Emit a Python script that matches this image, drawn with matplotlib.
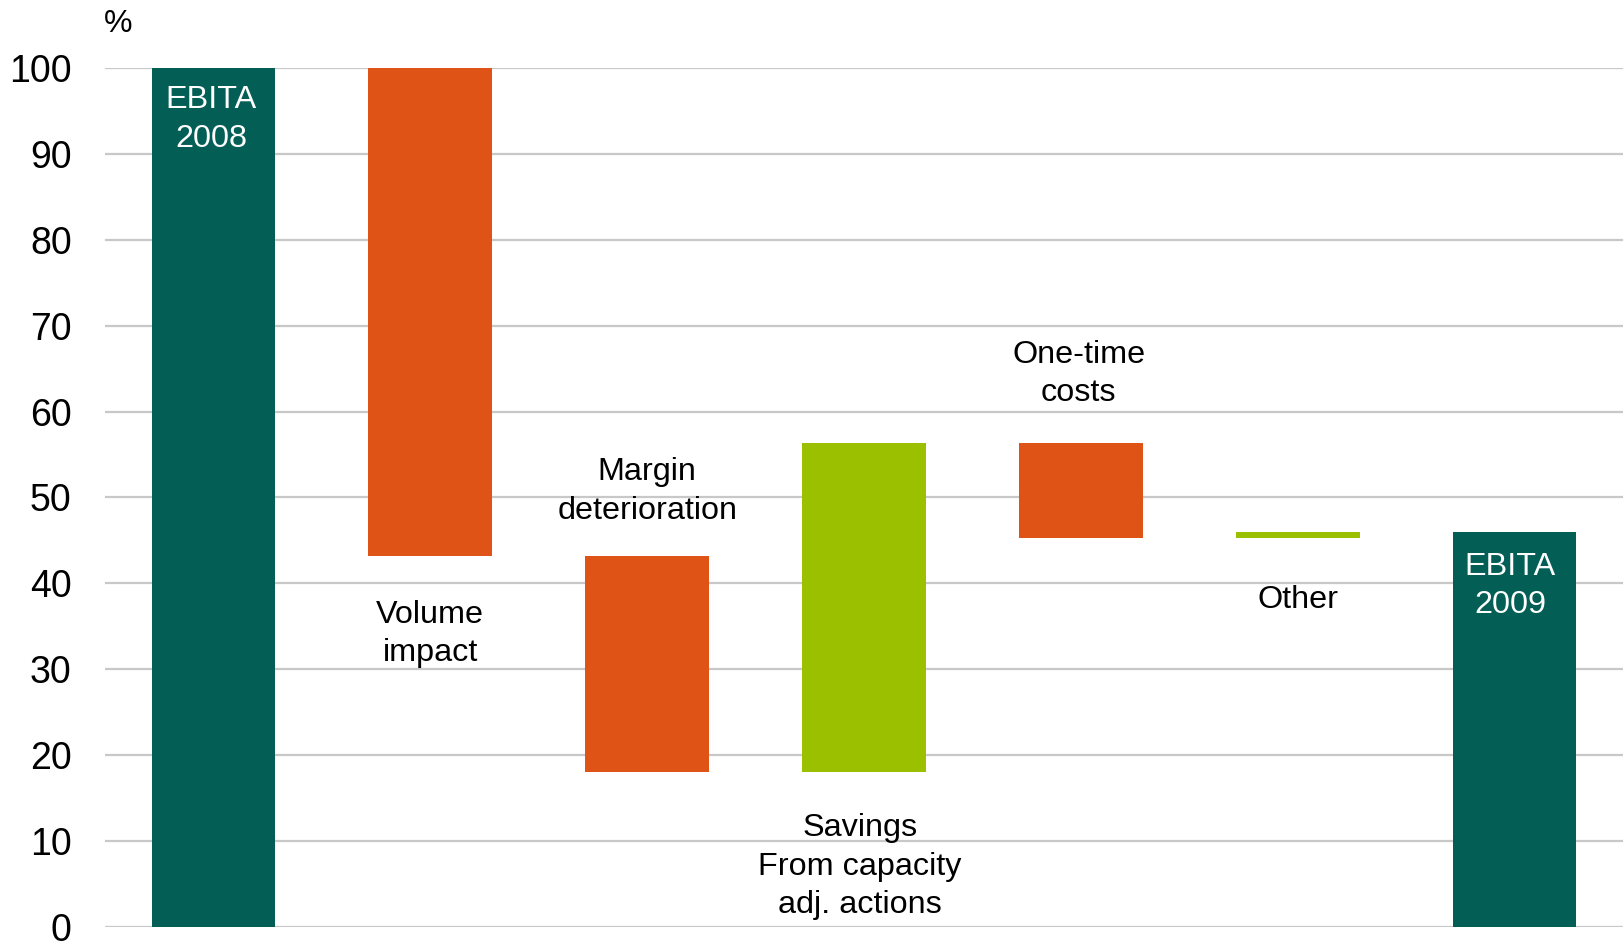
import numpy as np
import matplotlib.pyplot as plt

# waterfall data, % of EBITA 2008
labels = ['EBITA\n2008', 'Volume\nimpact', 'Margin\ndeterioration',
          'Savings\nFrom capacity\nadj. actions', 'One-time\ncosts', 'Other', 'EBITA\n2009']
deltas = [100.0, -56.8, -25.1, 38.2, -11.0, 0.7, 46.0]
kinds = ['total', 'step', 'step', 'step', 'step', 'step', 'total']
yticks = [0, 10, 20, 30, 40, 50, 60, 70, 80, 90, 100]

teal = '#035E55'
orange = '#E05317'
green = '#9BC000'

plt.rcParams['font.family'] = ['Liberation Sans', 'DejaVu Sans']

fig = plt.figure(figsize=(16.23, 9.43), dpi=100)
ax = fig.add_axes([105 / 1623, 16 / 943, 1518 / 1623, 859 / 943])

bottoms = []
heights = []
colors = []
run = 0.0
for d, k in zip(deltas, kinds):
    if k == 'total':
        bottoms.append(0.0)
        heights.append(d)
        colors.append(teal)
        run = d
    else:
        lo = min(run, run + d)
        bottoms.append(lo)
        heights.append(abs(d))
        colors.append(green if d > 0 else orange)
        run = run + d

x = np.arange(len(deltas))
ax.bar(x, heights, bottom=bottoms, width=0.57, color=colors, zorder=3)

# label placement: (anchor end of bar, offset in %, x shift)
fs = 23.3
place = [('top', -6.0, -0.01), ('bot', -9.1, 0.0), ('top', 7.5, 0.0),
         ('bot', -11.1, -0.02), ('top', 8.1, -0.01), ('bot', -7.2, 0.0),
         ('top', -6.3, -0.02)]
for i, lab in enumerate(labels):
    end, off, dx = place[i]
    base = bottoms[i] + heights[i] if end == 'top' else bottoms[i]
    col = 'white' if kinds[i] == 'total' else 'black'
    ax.text(i + dx, base + off, lab, ha='center', va='center', color=col,
            fontsize=fs, linespacing=1.37, zorder=4)

ax.set_xlim(-0.5, len(deltas) - 0.5)
ax.set_ylim(0, 100)
ax.set_yticks(yticks)
ax.set_xticks([])
ax.tick_params(axis='y', length=0, pad=24, labelsize=27)
ax.grid(axis='y', color='#C8C8C8', linewidth=1.6, zorder=0)
for s in ax.spines.values():
    s.set_visible(False)

fig.text(118 / 1623, 1 - 24 / 943, '%', ha='center', va='center', fontsize=23)

fig.savefig('out.png', dpi=100)
